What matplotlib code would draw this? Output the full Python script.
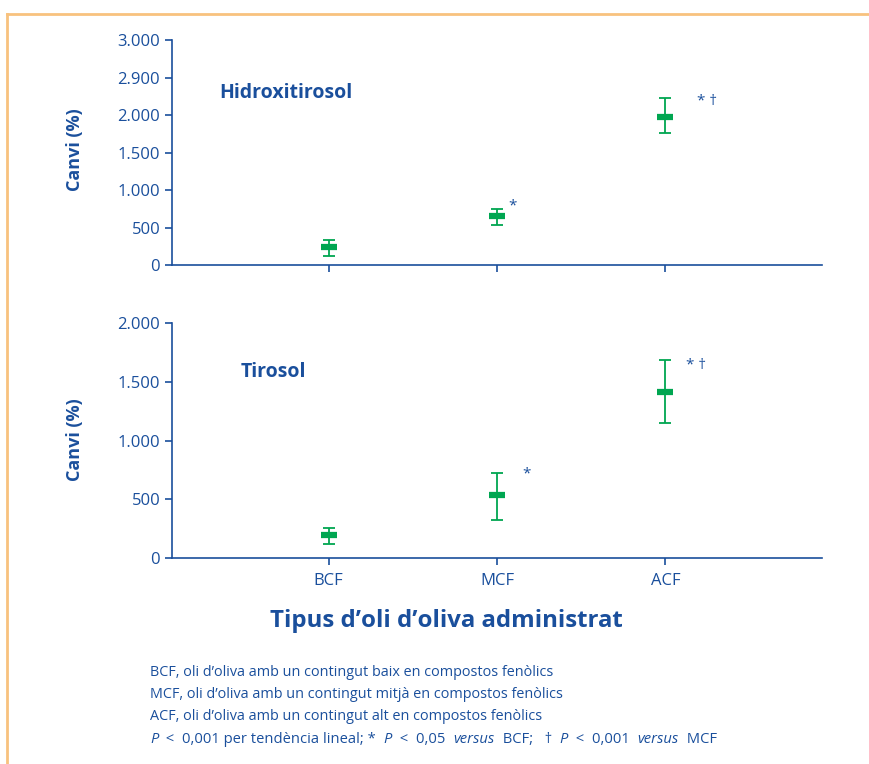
import matplotlib.pyplot as plt
from matplotlib.lines import Line2D

# data
categories = ["BCF", "MCF", "ACF"]
hidroxi_mean = [236, 653, 1969]
hidroxi_low = [120, 533, 1764]
hidroxi_high = [333, 743, 2231]
tirosol_mean = [196, 536, 1413]
tirosol_low = [119, 323, 1151]
tirosol_high = [258, 726, 1688]

top_ticks = [0, 500, 1000, 1500, 2000, 2500, 3000]
top_ticklabels = ["0", "500", "1.000", "1.500", "2.000", "2.900", "3.000"]
bottom_ticks = [0, 500, 1000, 1500, 2000]
bottom_ticklabels = ["0", "500", "1.000", "1.500", "2.000"]

footnotes = [
    "BCF, oli d\u2019oliva amb un contingut baix en compostos fenòlics",
    "MCF, oli d\u2019oliva amb un contingut mitjà en compostos fenòlics",
    "ACF, oli d\u2019oliva amb un contingut alt en compostos fenòlics",
]
# last footnote line as (text, italic) pieces
pvalue_note = [
    ("P", True), ("  <  0,001 per tendència lineal; *  ", False), ("P", True),
    ("  <  0,05  ", False), ("versus", True), ("  BCF;   \u2020  ", False),
    ("P", True), ("  <  0,001  ", False), ("versus", True), ("  MCF", False),
]

BLUE = "#1a4f9c"
GREEN = "#00a651"
ORANGE = "#f8c27e"

plt.rcParams["font.family"] = ["Open Sans", "DejaVu Sans"]

fig = plt.figure(figsize=(8.7, 7.64), dpi=100)
ax1 = fig.add_axes([0.1977, 0.6531, 0.7471, 0.2945])
ax2 = fig.add_axes([0.1977, 0.2696, 0.7471, 0.3076])

x = [1, 2, 3]


def draw(ax, mean, low, high, ymax, ticks, ticklabels, show_xlabels):
    err = [[m - l for m, l in zip(mean, low)], [h - m for m, h in zip(mean, high)]]
    ax.errorbar(x, mean, yerr=err, fmt="none", ecolor=GREEN, elinewidth=1.3,
                capsize=4, capthick=1.3)
    ax.plot(x, mean, linestyle="none", marker="_", markersize=11,
            markeredgewidth=4.5, color=GREEN)
    ax.set_xlim(0.07, 3.93)
    ax.set_ylim(0, ymax)
    ax.set_yticks(ticks)
    ax.set_yticklabels(ticklabels)
    ax.set_xticks(x)
    if show_xlabels:
        ax.set_xticklabels(categories)
    else:
        ax.set_xticklabels([])
    for side in ["top", "right"]:
        ax.spines[side].set_visible(False)
    for side in ["left", "bottom"]:
        ax.spines[side].set_color(BLUE)
        ax.spines[side].set_linewidth(1.2)
    ax.tick_params(colors=BLUE, labelcolor=BLUE, labelsize=12, length=5,
                   width=1.2, direction="out")
    ax.tick_params(axis="x", pad=6)


draw(ax1, hidroxi_mean, hidroxi_low, hidroxi_high, 3000, top_ticks,
     top_ticklabels, False)
draw(ax2, tirosol_mean, tirosol_low, tirosol_high, 2000, bottom_ticks,
     bottom_ticklabels, True)

ax1.text(0.072, 0.764, "Hidroxitirosol", transform=ax1.transAxes,
         color=BLUE, fontsize=14, fontweight="bold", va="center")
ax2.text(0.106, 0.79, "Tirosol", transform=ax2.transAxes,
         color=BLUE, fontsize=14, fontweight="bold", va="center")

# significance marks
ax1.text(2.065, 790, "*", color=BLUE, fontsize=11, va="center")
ax1.text(3.19, 2180, "* \u2020", color=BLUE, fontsize=11, va="center")
ax2.text(2.15, 715, "*", color=BLUE, fontsize=11, va="center")
ax2.text(3.12, 1640, "* \u2020", color=BLUE, fontsize=11, va="center")

fig.text(0.086, 1 - 150 / 764, "Canvi (%)", rotation=90, color=BLUE,
         fontsize=13, fontweight="bold", ha="center", va="center")
fig.text(0.086, 1 - 440 / 764, "Canvi (%)", rotation=90, color=BLUE,
         fontsize=13, fontweight="bold", ha="center", va="center")
fig.text(446 / 870, 1 - 621 / 764, "Tipus d\u2019oli d\u2019oliva administrat",
         color=BLUE, fontsize=17.3, fontweight="bold", ha="center", va="center")

y0 = 673
for i, line in enumerate(footnotes):
    fig.text(150 / 870, 1 - (y0 + 21.7 * i) / 764, line, color=BLUE,
             fontsize=10.4, va="center")

# last line: mixed roman / italic pieces placed one after the other
texts = []
base_y = 1 - (y0 + 21.7 * 3 + 5) / 764
for piece, italic in pvalue_note:
    texts.append(fig.text(150 / 870, base_y, piece, color=BLUE, fontsize=10.6,
                          fontstyle="italic" if italic else "normal",
                          va="baseline", ha="left"))
renderer = fig.canvas.get_renderer()
cursor = texts[0].get_window_extent(renderer).x1
for t in texts[1:]:
    t.set_x(cursor / fig.bbox.width)
    cursor = t.get_window_extent(renderer).x1

# orange frame (top and left edges)
fig.add_artist(Line2D([7 / 870, 7 / 870], [0, 1 - 14 / 764], color=ORANGE,
                      linewidth=2, transform=fig.transFigure))
fig.add_artist(Line2D([7 / 870, 1], [1 - 14 / 764, 1 - 14 / 764], color=ORANGE,
                      linewidth=2, transform=fig.transFigure))

fig.savefig("out.png", dpi=100)
